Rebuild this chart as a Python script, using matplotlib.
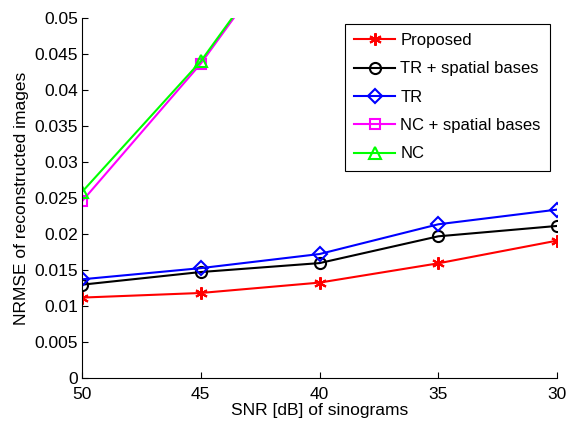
import matplotlib
matplotlib.use("Agg")
import matplotlib.pyplot as plt

plt.rcParams['font.family'] = ['Liberation Sans', 'DejaVu Sans']

snr = [50, 45, 40, 35, 30]
proposed = [0.01121, 0.01185, 0.01329, 0.01597, 0.01912]
tr_spatial = [0.0130, 0.01476, 0.0160, 0.01972, 0.02116]
tr = [0.01375, 0.01530, 0.01726, 0.02139, 0.02343]
nc_spatial = [0.02458, 0.04370, 0.0665, 0.090, 0.110]
nc = [0.02588, 0.04403, 0.0668, 0.091, 0.112]

labels = ['Proposed', 'TR + spatial bases', 'TR', 'NC + spatial bases', 'NC']
xticks = [50, 45, 40, 35, 30]
yticks = [0, 0.005, 0.01, 0.015, 0.02, 0.025, 0.03, 0.035, 0.04, 0.045, 0.05]
ytick_labels = ['0', '0.005', '0.01', '0.015', '0.02', '0.025', '0.03', '0.035', '0.04', '0.045', '0.05']

fig = plt.figure(figsize=(5.66, 4.21), dpi=100)
ax = fig.add_axes([82/566, (421-378.3)/421, (557-82)/566, (378.3-18.3)/421])

lw = 1.5
ax.plot(snr, proposed, color='#ff0000', marker=(6, 2, 0), markersize=9, lw=lw, mew=1.5, label=labels[0])
ax.plot(snr, tr_spatial, color='black', marker='o', markersize=8, mfc='none', lw=lw, mew=1.5, label=labels[1])
ax.plot(snr, tr, color='#0000ff', marker='D', markersize=7, mfc='none', lw=lw, mew=1.5, label=labels[2])
ax.plot(snr, nc_spatial, color='#ff00ff', marker='s', markersize=6.5, mfc='none', lw=lw, mew=1.5, label=labels[3])
ax.plot(snr, nc, color='#00ff00', marker='^', markersize=9, mfc='none', lw=lw, mew=1.5, label=labels[4])

ax.set_xlim(50, 30)
ax.set_ylim(0, 0.05)
ax.set_xticks(xticks)
ax.set_xticklabels([str(v) for v in xticks])
ax.set_yticks(yticks)
ax.set_yticklabels(ytick_labels)
ax.tick_params(direction='in', length=4, labelsize=12.5, width=0.8)
ax.tick_params(axis='x', pad=6)
ax.tick_params(axis='y', pad=3)
for s in ['top', 'right']:
    ax.spines[s].set_visible(False)
ax.set_xlabel('SNR [dB] of sinograms', fontsize=12.5, labelpad=1)
ax.set_ylabel('NRMSE of reconstructed images', fontsize=12.5, labelpad=4)

leg = ax.legend(loc='upper right', bbox_to_anchor=(550/566, 1-24/421), bbox_transform=fig.transFigure,
                fontsize=12, fancybox=False, edgecolor='black', framealpha=1, borderaxespad=0,
                handlelength=2.5, borderpad=0.55, labelspacing=0.8, handletextpad=0.3)
leg.get_frame().set_linewidth(0.8)

fig.savefig('out.png', dpi=100)
